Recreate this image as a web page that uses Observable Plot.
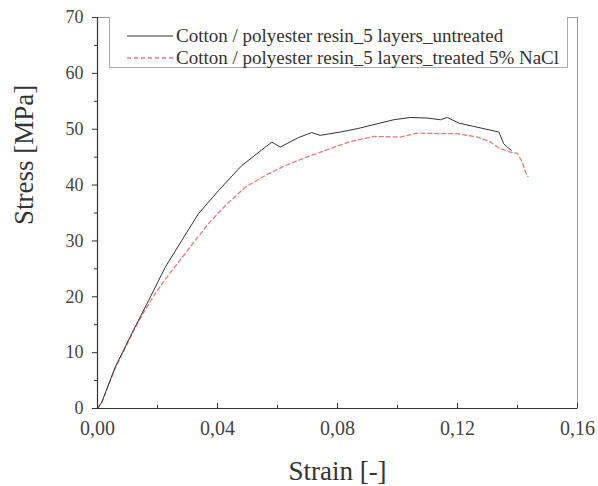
<!DOCTYPE html>
<html>
<head>
<meta charset="utf-8">
<script src="https://cdn.jsdelivr.net/npm/d3@7"></script>
<script src="https://cdn.jsdelivr.net/npm/@observablehq/plot@0.6"></script>
<style>
  html, body { margin: 0; padding: 0; background: #fff; }
  #wrap { position: relative; width: 598px; height: 486px; font-family: "Liberation Serif", "Times New Roman", Times, "DejaVu Serif", serif; }
  #wrap svg, #wrap svg text { font-family: "Liberation Serif", "Times New Roman", Times, "DejaVu Serif", serif !important; }
  #legend { position: absolute; left: 109px; top: 17px; width: 459px; height: 51px; border: 1px solid #aaa; border-top: none; box-sizing: border-box; background: #fff; }
  .row { position: absolute; left: 0; height: 22px; display: flex; align-items: center; font-size: 19px; color: #333; white-space: nowrap; }
  .row svg { margin-left: 17px; margin-right: 3px; }
</style>
</head>
<body>
<div id="wrap"></div>
<script>
// Series: Cotton / polyester resin_5 layers_untreated
const strainUntreated = [0, 0.0014, 0.0059, 0.0114, 0.0170, 0.0226, 0.0281, 0.0337, 0.0403, 0.0481, 0.0581, 0.0609, 0.0670, 0.0714, 0.0742, 0.0810, 0.0866, 0.0988, 0.1043, 0.1099, 0.1143, 0.1166, 0.1204, 0.1254, 0.1338, 0.1354, 0.1366, 0.1380];
const stressUntreated = [0, 1.1, 7.4, 13.4, 19.3, 25.3, 30.1, 34.9, 39.0, 43.5, 47.7, 46.8, 48.5, 49.4, 48.9, 49.5, 50.1, 51.7, 52.1, 52.0, 51.7, 52.1, 51.1, 50.5, 49.5, 47.4, 46.8, 46.2];
// Series: Cotton / polyester resin_5 layers_treated 5% NaCl
const strainTreated = [0, 0.0014, 0.0059, 0.0114, 0.0144, 0.0192, 0.0248, 0.0292, 0.0326, 0.0370, 0.0426, 0.0492, 0.0559, 0.0626, 0.0692, 0.0759, 0.0837, 0.0921, 0.1010, 0.1066, 0.1143, 0.1199, 0.1266, 0.1310, 0.1343, 0.1377, 0.1399, 0.1416, 0.1427, 0.1435];
const stressTreated = [0, 1.0, 7.2, 13.2, 16.3, 20.6, 24.7, 27.7, 30.1, 33.1, 36.3, 39.6, 41.7, 43.5, 44.9, 46.2, 47.7, 48.7, 48.6, 49.3, 49.2, 49.2, 48.6, 47.7, 46.5, 45.9, 45.7, 44.1, 42.3, 41.5];

const seriesNames = ["Cotton  / polyester resin_5 layers_untreated", "Cotton  / polyester resin_5 layers_treated 5% NaCl"];
const xTicks = [0, 0.04, 0.08, 0.12, 0.16];
const xTickLabels = ["0,00", "0,04", "0,08", "0,12", "0,16"];
const xMinorTicks = [0.02, 0.06, 0.10, 0.14];
const yTicks = [0, 10, 20, 30, 40, 50, 60, 70];
const yMinorTicks = [5, 15, 25, 35, 45, 55, 65];
const xTitle = "Strain [-]";
const yTitle = "Stress [MPa]";

const untreated = strainUntreated.map((s, i) => ({strain: s, stress: stressUntreated[i]}));
const treated = strainTreated.map((s, i) => ({strain: s, stress: stressTreated[i]}));

const colorUntreated = "#333";
const colorTreated = "#e27c80";
const serif = "'Liberation Serif', 'Times New Roman', Times, 'DejaVu Serif', serif";

const plot = Plot.plot({
  width: 598,
  height: 486,
  marginLeft: 97,
  marginRight: 21,
  marginTop: 17,
  marginBottom: 78,
  style: {fontFamily: serif, background: "#fff", color: "#333"},
  x: {domain: [0, 0.16]},
  y: {domain: [0, 70]},
  marks: [
    Plot.frame({stroke: "#999", strokeWidth: 1}),
    Plot.line(treated, {x: "strain", y: "stress", stroke: colorTreated, strokeWidth: 1.3, strokeDasharray: "4,3"}),
    Plot.line(untreated, {x: "strain", y: "stress", stroke: colorUntreated, strokeWidth: 1}),
    Plot.ruleX([0], {stroke: "#333", strokeWidth: 1.2}),
    Plot.ruleY([0], {stroke: "#333", strokeWidth: 1.2}),
    Plot.axisX(xTicks, {tickSize: 0, tickPadding: 12, fontSize: 20, fill: "#444", tickFormat: (d) => xTickLabels[xTicks.indexOf(d)], label: null}),
    Plot.tickX(xTicks, {x: d => d, stroke: "#333", insetTop: 386}),
    Plot.tickX(xMinorTicks, {x: d => d, stroke: "#333", insetTop: 388}),
    Plot.axisY(yTicks, {tickSize: 5, tickPadding: 9, fontSize: 18, fill: "#444", stroke: "#333", label: null}),
    Plot.axisY(yMinorTicks, {tickSize: 3, tickFormat: () => "", stroke: "#333", label: null}),
    Plot.text([xTitle], {frameAnchor: "bottom", dy: 71, lineAnchor: "bottom", fontSize: 27, fill: "#333"}),
    Plot.text([yTitle], {frameAnchor: "left", dx: -65, dy: 12, rotate: -90, lineAnchor: "bottom", fontSize: 27, fill: "#333"})
  ]
});

const wrap = document.getElementById("wrap");
wrap.appendChild(plot);

// Legend (inside plot area, top)
const legend = document.createElement("div");
legend.id = "legend";
const rows = [
  {name: seriesNames[0], color: colorUntreated, dash: null, top: 8},
  {name: seriesNames[1], color: colorTreated, dash: "4,3", top: 30}
];
for (const r of rows) {
  const row = document.createElement("div");
  row.className = "row";
  row.style.top = r.top + "px";
  row.innerHTML = `<svg width="46" height="6"><line x1="0" x2="46" y1="3" y2="3" stroke="${r.color}" stroke-width="${r.dash ? 1.5 : 1}" ${r.dash ? `stroke-dasharray="${r.dash}"` : ""}/></svg><span></span>`;
  row.querySelector("span").textContent = r.name;
  legend.appendChild(row);
}
wrap.appendChild(legend);
</script>
</body>
</html>
